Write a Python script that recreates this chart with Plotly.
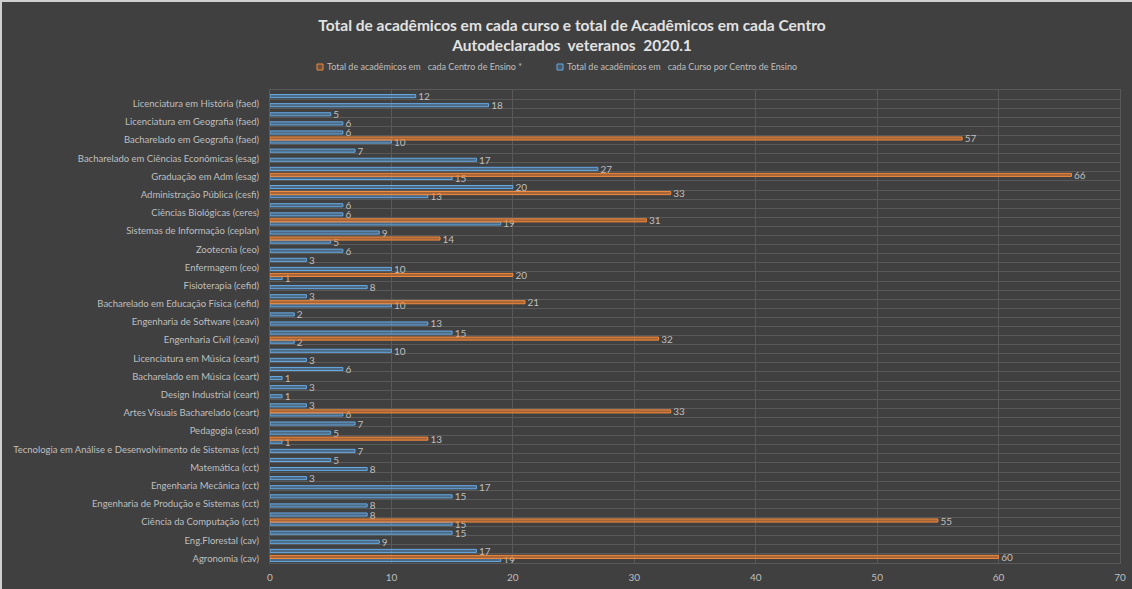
import plotly.graph_objects as go

# Category labels (bottom to top); empty strings are categories whose label Excel skipped
course_labels = [
    "Agronomia (cav)", "",
    "Eng.Florestal (cav)", "",
    "Ciência da Computação (cct)", "",
    "Engenharia de Produção e Sistemas (cct)", "",
    "Engenharia Mecânica (cct)", "",
    "Matemática (cct)", "",
    "Tecnologia em Análise e Desenvolvimento de Sistemas (cct)", "",
    "Pedagogia (cead)", "",
    "Artes Visuais Bacharelado (ceart)", "",
    "Design Industrial (ceart)", "",
    "Bacharelado em Música (ceart)", "",
    "Licenciatura em Música (ceart)", "",
    "Engenharia Civil (ceavi)", "",
    "Engenharia de Software (ceavi)", "",
    "Bacharelado em Educação Física (cefid)", "",
    "Fisioterapia (cefid)", "",
    "Enfermagem (ceo)", "",
    "Zootecnia (ceo)", "",
    "Sistemas de Informação (ceplan)", "",
    "Ciências Biológicas (ceres)", "",
    "Administração Pública (cesfi)", "",
    "Graduação em Adm (esag)", "",
    "Bacharelado em Ciências Econômicas (esag)", "",
    "Bacharelado em Geografia (faed)", "",
    "Licenciatura em Geografia (faed)", "",
    "Licenciatura em História (faed)", "",
]

# Total per course (blue series)
curso_values = [
    19, 17, 9, 15, 15, 8, 8, 15, 17, 3,
    8, 5, 7, 1, 5, 7, 6, 3, 1, 3,
    1, 6, 3, 10, 2, 15, 13, 2, 10, 3,
    8, 1, 10, 3, 6, 5, 9, 19, 6, 6,
    13, 20, 15, 27, 17, 7, 10, 6, 6, 5,
    18, 12,
]

# Total per teaching centre (orange series)
centro_values = [
    60, None, None, None, 55, None, None, None, None, None,
    None, None, None, 13, None, None, 33, None, None, None,
    None, None, None, None, 32, None, None, None, 21, None,
    None, 20, None, None, None, 14, None, 31, None, None,
    33, None, 66, None, None, None, 57, None, None, None,
    None, None,
]

x_ticks = [0, 10, 20, 30, 40, 50, 60, 70]

series_names = [
    "Total de acadêmicos em\u00a0\u00a0 cada Centro de Ensino *",
    "Total de acadêmicos em\u00a0\u00a0 cada Curso por Centro de Ensino",
]

W, H = 1132, 589
ML, MR, MT, MB = 270, 12, 90, 26
PW, PH = W - ML - MR, H - MT - MB


def px_x(p):
    return (p - ML) / PW


def px_y(p):
    return (H - MB - p) / PH


positions = list(range(len(course_labels)))
tick_pos = [p for p, lab in zip(positions, course_labels) if lab]
tick_txt = [lab for lab in course_labels if lab]

BG = "#404040"
GRID = "#595959"
TXT = "#bfbfbf"
FONT = "Lato"
BLUE_LINE = "#66a9e4"
BLUE_FILL = "rgba(91,155,213,0.45)"
ORANGE_LINE = "#f08a3e"
ORANGE_FILL = "rgba(237,125,49,0.6)"

fig = go.Figure()

fig.add_trace(go.Bar(
    y=positions, x=curso_values, orientation="h",
    name=series_names[1],
    marker=dict(color=BLUE_FILL, line=dict(color=BLUE_LINE, width=1)),
    text=["\u00a0" + str(v) for v in curso_values], textposition="outside",
    textfont=dict(color=TXT, size=10, family=FONT),
    constraintext="none", cliponaxis=False, showlegend=False,
))
fig.add_trace(go.Bar(
    y=positions, x=centro_values, orientation="h",
    name=series_names[0],
    marker=dict(color=ORANGE_FILL, line=dict(color=ORANGE_LINE, width=1)),
    text=["" if v is None else "\u00a0" + str(v) for v in centro_values], textposition="outside",
    textfont=dict(color=TXT, size=10, family=FONT),
    constraintext="none", cliponaxis=False, showlegend=False,
))

# Custom legend (small outlined squares like Excel)
legend_items = [
    (series_names[0], 317, ORANGE_LINE, "rgba(237,125,49,0.25)"),
    (series_names[1], 557, BLUE_LINE, "rgba(91,155,213,0.25)"),
]
shapes = []
annotations = []
ly = 67
for name, x0, lc, fc in legend_items:
    shapes.append(dict(
        type="rect", xref="paper", yref="paper",
        x0=px_x(x0), x1=px_x(x0 + 6), y0=px_y(ly + 3), y1=px_y(ly - 3),
        line=dict(color=lc, width=1), fillcolor=fc,
    ))
    annotations.append(dict(
        text=name, xref="paper", yref="paper", x=px_x(x0 + 8), y=px_y(ly),
        xanchor="left", yanchor="middle", showarrow=False,
        font=dict(size=9, color=TXT, family=FONT),
    ))

# light frame at top/left edge of the picture
shapes.append(dict(type="line", xref="paper", yref="paper",
                   x0=px_x(0), x1=px_x(W), y0=px_y(1), y1=px_y(1),
                   line=dict(color="#d0d0d0", width=2)))
shapes.append(dict(type="line", xref="paper", yref="paper",
                   x0=px_x(1), x1=px_x(1), y0=px_y(0), y1=px_y(H),
                   line=dict(color="#d0d0d0", width=2)))

fig.update_layout(
    width=W, height=H,
    paper_bgcolor=BG, plot_bgcolor=BG,
    barmode="group", bargap=0.32, bargroupgap=0,
    margin=dict(l=ML, r=MR, t=MT, b=MB, autoexpand=False),
    font=dict(family=FONT, color=TXT, size=10),
    title=dict(
        text="<b>Total de acadêmicos em cada curso e total de Acadêmicos em cada Centro<br>Autodeclarados\u00a0 veteranos\u00a0 2020.1</b>",
        x=572 / W, xref="container", xanchor="center",
        y=1 - 30.5 / H, yref="container", yanchor="middle",
        font=dict(family=FONT, size=15.5, color="#e2e2e2"),
    ),
    shapes=shapes,
    annotations=annotations,
    showlegend=False,
)

fig.update_xaxes(
    range=[0, 70], tickvals=x_ticks, showgrid=True, gridcolor=GRID, gridwidth=1,
    zeroline=False, showline=True, linecolor=GRID, mirror=True,
    tickfont=dict(size=10, color=TXT, family=FONT), ticks="", ticklabelstandoff=5,
)
fig.update_yaxes(
    range=[-0.5, len(course_labels) - 0.5], tickvals=tick_pos, ticktext=tick_txt,
    showgrid=False, zeroline=False, showline=True, linecolor=GRID, mirror=True,
    minor=dict(tick0=0.5, dtick=1, showgrid=True, gridcolor=GRID, gridwidth=1, ticks=""),
    tickfont=dict(size=9.5, color=TXT, family=FONT), ticks="", ticklabelstandoff=8,
)

fig.write_html(
    "out.html",
    config={"displayModeBar": False},
    post_script="document.body.style.margin='0';document.body.style.overflow='hidden';",
)
